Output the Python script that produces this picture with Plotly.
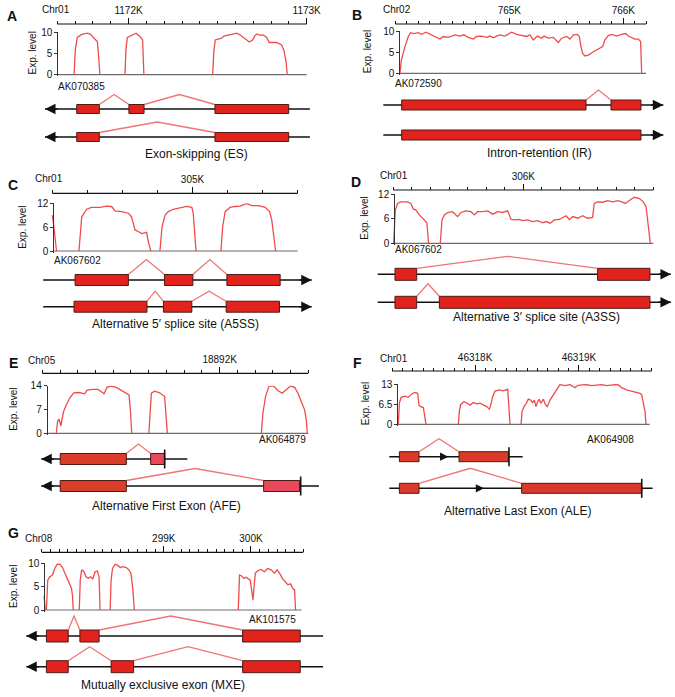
import plotly.graph_objects as go

W, H = 675, 697
FONT = "Arial, Liberation Sans, sans-serif"
COV = "#ef4b4b"
ARC = "#f07474"
EXON = "#e2231d"
EDGE = "#4d1a14"
INK = "#111111"

# ---- A: exon skipping ----
A_RULER = [1171600, 1173000]
A_MAJOR = [1172000, 1173000]
A_MAJOR_TEXT = ["1172K", "1173K"]
A_YTICKS = [0, 5, 10]
A_SPAN = [1171600, 1173000]
A_X = [1171694, 1171701, 1171712, 1171737, 1171768, 1171787, 1171806, 1171825, 1171832, 1171839, None,
       1171980, 1171985, 1171993, 1172017, 1172042, 1172064, 1172079, 1172086, None,
       1172472, 1172479, 1172487, 1172504, 1172522, 1172535, 1172560, 1172582, 1172607, 1172625,
       1172653, 1172678, 1172696, 1172711, 1172723, 1172738, 1172756, 1172775, 1172790, 1172831,
       1172859, 1172872, 1172884, 1172891]
A_Y = [0, 5.8, 8.8, 9.5, 9.8, 9.5, 8.6, 7.8, 4.3, 0, None,
       0, 5.8, 8.8, 9.2, 9.8, 9.0, 8.2, 0, None,
       0, 5.8, 8.2, 8.4, 8.6, 9.1, 9.3, 9.5, 9.8, 9.4,
       8.6, 7.7, 8.2, 9.3, 9.6, 9.3, 9.4, 8.8, 7.6, 7.6,
       7.0, 5.8, 3.1, 0]
A_ISO = [[(1171709, 1171836), (1172002, 1172087), (1172485, 1172899)],
         [(1171709, 1171836), (1172485, 1172899)]]
A_LINES = [[1171531, 1173018], [1171531, 1173018]]

# ---- B: intron retention ----
B_RULER = [764000, 766200]
B_MAJOR = [765000, 766000]
B_MAJOR_TEXT = ["765K", "766K"]
B_YTICKS = [0, 5, 10]
B_SPAN = [764035, 766200]
B_X = [764041, 764053, 764085, 764114, 764134, 764164, 764202, 764231, 764269, 764304,
       764363, 764392, 764421, 764465, 764523, 764567, 764602, 764640, 764684, 764713,
       764757, 764801, 764830, 764860, 764889, 764918, 764962, 764991, 765020, 765064,
       765108, 765152, 765181, 765211, 765246, 765284, 765304, 765342, 765386, 765430,
       765459, 765503, 765532, 765561, 765596, 765614, 765626, 765643, 765664, 765693,
       765737, 765781, 765819, 765839, 765868, 765898, 765942, 765985, 766023, 766044,
       766073, 766102, 766132, 766152, 766161]
B_Y = [0, 3.1, 6.3, 8.7, 9.6, 9.4, 9.6, 9.2, 9.7, 9.2,
       8.5, 8.1, 8.7, 8.5, 9.1, 8.8, 9.1, 8.5, 8.1, 8.7,
       8.8, 8.5, 8.8, 8.4, 8.8, 9.1, 8.8, 9.3, 9.7, 9.2,
       9.0, 8.7, 9.1, 7.9, 8.8, 8.3, 8.8, 8.3, 8.5, 7.3,
       8.3, 8.7, 8.1, 9.1, 9.2, 8.7, 6.7, 4.7, 4.1, 4.3,
       5.1, 5.7, 6.3, 7.9, 8.9, 9.2, 8.8, 9.2, 9.4, 8.8,
       8.4, 8.1, 8.1, 7.5, 0]
B_ISO = [[(764056, 765673), (765892, 766155)],
         [(764056, 766155)]]
B_LINES = [[763895, 766351], [763895, 766351]]

# ---- C: alternative 5' splice site ----
C_RULER = [304600, 305300]
C_MAJOR = [305000]
C_MAJOR_TEXT = ["305K"]
C_YTICKS = [0, 6, 12]
C_SPAN = [304603, 305300]
C_X = [304600, 304604, 304612, None,
       304676, 304684, 304698, 304712, 304736, 304755, 304769, 304779, 304798, 304817,
       304826, 304831, 304836, 304845, 304855, 304869, 304874, 304881, None,
       304907, 304913, 304922, 304931, 304945, 304964, 304983, 304998, 305002, 305007, 305010, None,
       305081, 305086, 305093, 305107, 305121, 305136, 305153, 305159, 305169, 305188,
       305207, 305220, 305226, 305233, 305237]
C_Y = [9.0, 6.5, 0, None,
       0, 8.6, 10.5, 11.0, 11.0, 11.3, 11.2, 10.1, 9.9, 9.5,
       8.6, 6.5, 5.3, 4.9, 4.4, 4.7, 2.3, 0, None,
       0, 6.1, 9.1, 9.9, 10.5, 10.9, 11.2, 11.0, 9.5, 3.6, 0, None,
       0, 6.1, 9.9, 11.0, 11.2, 11.3, 11.9, 11.8, 11.4, 11.4,
       11.0, 9.9, 7.8, 3.6, 0]
C_ISO = [[(304665, 304817), (304920, 305001), (305098, 305250)],
         [(304662, 304870), (304917, 304998), (305096, 305248)]]
C_LINES = [[304574, 305340], [304574, 305340]]

# ---- D: alternative 3' splice site ----
D_RULER = [305300, 306700]
D_MAJOR = [306000]
D_MAJOR_TEXT = ["306K"]
D_YTICKS = [0, 6, 12]
D_SPAN = [305305, 306700]
D_X = [305302, 305311, 305323, 305341, 305377, 305395, 305408, 305422, 305440, 305458,
       305472, 305481, 305487, 305490, None,
       305553, 305562, 305575, 305593, 305619, 305646, 305664, 305691, 305718, 305736,
       305754, 305781, 305808, 305835, 305862, 305889, 305916, 305925, 305934, 305952,
       305978, 305996, 306023, 306050, 306077, 306104, 306122, 306145, 306167, 306194,
       306215, 306230, 306248, 306266, 306293, 306320, 306346, 306373, 306382, 306400,
       306427, 306454, 306481, 306508, 306531, 306549, 306571, 306598, 306625, 306646,
       306661, 306670, 306679, 306684]
D_Y = [0, 8.1, 9.7, 10.1, 10.1, 9.7, 8.3, 8.1, 6.9, 6.1,
       5.3, 5.0, 1.6, 0, None,
       0, 5.7, 6.9, 7.5, 7.7, 6.5, 7.5, 7.9, 7.7, 6.9,
       7.7, 7.7, 7.9, 7.1, 7.7, 7.5, 7.9, 6.9, 5.8, 5.7,
       5.8, 5.5, 5.7, 5.3, 5.5, 5.0, 5.3, 4.9, 5.7, 5.8,
       6.3, 6.7, 5.8, 6.5, 6.1, 6.7, 6.1, 6.3, 9.7, 10.1,
       10.0, 10.4, 10.1, 10.4, 10.1, 9.7, 10.4, 11.2, 10.9, 10.1,
       8.9, 5.7, 1.6, 0]
D_ISO = [[(305309, 305426), (306400, 306682)],
         [(305309, 305426), (305548, 306682)]]
D_LINES = [[305216, 306795], [305216, 306795]]

# ---- E: alternative first exon ----
E_RULER = [18891000, 18892500]
E_MAJOR = [18892000]
E_MAJOR_TEXT = ["18892K"]
E_YTICKS = [0, 7, 14]
E_SPAN = [18891025, 18892500]
E_X = [18891079, 18891086, 18891094, 18891099, 18891105, 18891111, 18891120, 18891135, 18891154, 18891177,
       18891207, 18891239, 18891252, 18891286, 18891314, 18891333, 18891348, 18891365, 18891389, 18891417,
       18891445, 18891474, 18891489, 18891498, 18891504, None,
       18891601, 18891607, 18891615, 18891633, 18891662, 18891690, 18891699, 18891705, None,
       18892235, 18892244, 18892259, 18892278, 18892305, 18892329, 18892353, 18892376, 18892399, 18892423,
       18892442, 18892457, 18892470, 18892479, 18892489, 18892494]
E_Y = [0, 3.4, 4.2, 3.2, 2.2, 4.1, 6.4, 8.3, 10.3, 11.9,
       12.0, 11.6, 12.7, 12.9, 12.9, 12.2, 11.6, 13.5, 13.9, 13.5,
       12.7, 11.9, 11.3, 5.9, 0, None,
       0, 6.9, 11.8, 12.4, 11.9, 10.8, 4.9, 0, None,
       0, 5.9, 10.8, 13.9, 13.9, 12.5, 11.8, 12.9, 13.9, 13.5,
       11.8, 9.8, 8.3, 6.9, 3.9, 0]
E_ISO = [[(18891101, 18891474), (18891611, 18891690)],
         [(18891101, 18891474), (18892248, 18892451)]]
E_LINES = [[18890994, 18891818], [18890994, 18892560]]
E_BARS = [18891690, 18892457]

# ---- F: alternative last exon ----
F_RULER = [46317200, 46319700]
F_MAJOR = [46318000, 46319000]
F_MAJOR_TEXT = ["46318K", "46319K"]
F_YTICKS = [0, 6.5, 13]
F_SPAN = [46317251, 46319680]
F_X = [46317261, 46317271, 46317287, 46317325, 46317357, 46317389, 46317421, 46317447, 46317460, 46317476,
       46317502, 46317518, 46317527, None,
       46317839, 46317848, 46317861, 46317893, 46317925, 46317951, 46317983, 46318015, 46318047, 46318079,
       46318111, 46318137, 46318150, 46318169, 46318192, 46318233, 46318272, 46318314, 46318323, 46318336, None,
       46318442, 46318452, 46318471, 46318490, 46318512, 46318535, 46318554, 46318570, 46318586, 46318602,
       46318618, 46318634, 46318657, 46318676, 46318695, 46318721, 46318753, 46318785, 46318817, 46318865,
       46318914, 46318962, 46318984, 46319026, 46319074, 46319122, 46319170, 46319218, 46319267, 46319315,
       46319347, 46319379, 46319411, 46319459, 46319507, 46319555, 46319587, 46319604, 46319620, 46319636,
       46319645]
F_Y = [0, 6.8, 8.7, 9.1, 8.7, 9.8, 10.3, 10.0, 6.2, 5.7,
       5.4, 2.5, 0, None,
       0, 4.1, 6.4, 7.3, 6.8, 6.2, 7.0, 6.6, 6.8, 6.2,
       5.7, 4.9, 6.2, 8.9, 10.7, 11.1, 10.8, 11.3, 5.7, 0, None,
       0, 4.1, 5.7, 6.6, 8.1, 7.8, 7.0, 7.8, 5.7, 7.3,
       8.1, 6.8, 8.1, 6.4, 5.7, 7.8, 9.5, 11.3, 12.8, 12.5,
       12.8, 11.8, 12.5, 12.7, 12.8, 12.5, 12.7, 12.8, 12.5, 12.8,
       12.8, 12.7, 11.8, 11.1, 10.7, 10.3, 10.0, 9.5, 7.3, 4.1,
       0]
F_ISO = [[(46317271, 46317460), (46317845, 46318320)],
         [(46317271, 46317460), (46318448, 46319604)]]
F_LINES = [[46317174, 46318458], [46317174, 46319709]]
F_BARS = [46318326, 46319604]
F_MID = [46317742, 46318086]

# ---- G: mutually exclusive exons ----
G_RULER = [297600, 300600]
G_MAJOR = [298000, 299000, 300000]
G_MAJOR_TEXT = ["", "299K", "300K"]
G_YTICKS = [0, 5, 10]
G_SPAN = [297630, 300580]
G_X = [297627, 297642, None,
       297654, 297669, 297692, 297723, 297750, 297777, 297808, 297839, 297865, 297885,
       297912, 297931, 297942, 297954, 297962, None,
       298031, 298042, 298058, 298085, 298108, 298135, 298162, 298185, 298212, 298238,
       298258, 298269, None,
       298385, 298396, 298412, 298442, 298469, 298500, 298531, 298569, 298596, 298623,
       298646, 298662, None,
       299854, 299869, 299892, 299915, 299942, 299969, 299992, 300012, 300023, 300035,
       300050, 300077, 300115, 300154, 300192, 300231, 300269, 300300, 300327, 300365,
       300392, 300423, 300454, 300481, 300500, 300511]
G_Y = [3.0, 0, None,
       0, 6.4, 7.1, 7.5, 8.9, 9.8, 9.8, 9.1, 7.9, 7.1,
       6.1, 5.4, 4.6, 2.9, 0, None,
       0, 6.4, 8.6, 8.2, 7.1, 6.8, 7.1, 6.6, 8.2, 8.4,
       7.1, 0, None,
       0, 6.4, 8.9, 9.8, 9.6, 9.1, 9.3, 9.1, 8.7, 7.9,
       4.3, 0, None,
       0, 7.5, 7.3, 6.8, 7.0, 6.6, 6.4, 3.6, 2.1, 5.0,
       7.9, 8.4, 8.7, 8.2, 8.9, 8.6, 7.9, 8.6, 7.9, 6.6,
       6.1, 5.4, 5.6, 4.6, 4.3, 0]
G_ISO = [[(297654, 297904), (298038, 298258), (299904, 300565)],
         [(297654, 297904), (298396, 298654), (299904, 300565)]]
G_LINES = [[297423, 300827], [297423, 300827]]

# layout of each panel, in pixels of the 675x697 page
PANELS = [
    dict(letter="A", chr="Chr01", gene="AK070385", title="Exon-skipping (ES)",
         ruler=A_RULER, major=A_MAJOR, major_text=A_MAJOR_TEXT, yticks=A_YTICKS, span=A_SPAN,
         x=A_X, y=A_Y, iso=A_ISO, lines=A_LINES, strand="-",
         letter_px=(12, 16), chr_px=(56, 9), ruler_y=24, ruler_px=(57.3, 306.7), dom_px=(18, 335),
         cov_px=(32.3, 74.7), ytitle_x=32, gene_px=(56, 86, "left"), rows=[109, 137], exon_h=9,
         arc_h=[10, 10.5], title_px=(196, 154)),
    dict(letter="B", chr="Chr02", gene="AK072590", title="Intron-retention (IR)",
         ruler=B_RULER, major=B_MAJOR, major_text=B_MAJOR_TEXT, yticks=B_YTICKS, span=B_SPAN,
         x=B_X, y=B_Y, iso=B_ISO, lines=B_LINES, strand="+",
         letter_px=(357, 15), chr_px=(397, 9), ruler_y=24, ruler_px=(395.3, 646.1), dom_px=(370, 672),
         cov_px=(31, 73.3), ytitle_x=367, gene_px=(393, 83, "left"), rows=[105, 135], exon_h=10,
         arc_h=[10, 10], title_px=(539, 153)),
    dict(letter="C", chr="Chr01", gene="AK067602", title="Alternative 5\u2032 splice site (A5SS)",
         ruler=C_RULER, major=C_MAJOR, major_text=C_MAJOR_TEXT, yticks=C_YTICKS, span=C_SPAN,
         x=C_X, y=C_Y, iso=C_ISO, lines=C_LINES, strand="+",
         letter_px=(13, 185), chr_px=(49, 178), ruler_y=193.3, ruler_px=(52.3, 297.7), dom_px=(20, 335),
         cov_px=(203.3, 251), ytitle_x=21.7, gene_px=(52, 260, "left"), rows=[280, 306.7], exon_h=11,
         arc_h=[15, 10], title_px=(175, 324)),
    dict(letter="D", chr="Chr01", gene="AK067602", title="Alternative 3\u2032 splice site (A3SS)",
         ruler=D_RULER, major=D_MAJOR, major_text=D_MAJOR_TEXT, yticks=D_YTICKS, span=D_SPAN,
         x=D_X, y=D_Y, iso=D_ISO, lines=D_LINES, strand="+",
         letter_px=(356, 182), chr_px=(394, 176), ruler_y=190, ruler_px=(393.3, 653.3), dom_px=(370, 675),
         cov_px=(194, 243.3), ytitle_x=365, gene_px=(392.7, 250, "left"), rows=[274.3, 302.3], exon_h=12,
         arc_h=[12, 12.5], title_px=(536.7, 316.7)),
    dict(letter="E", chr="Chr05", gene="AK064879", title="Alternative First Exon (AFE)",
         ruler=E_RULER, major=E_MAJOR, major_text=E_MAJOR_TEXT, yticks=E_YTICKS, span=E_SPAN,
         x=E_X, y=E_Y, iso=E_ISO, lines=E_LINES, strand="-", bars=E_BARS,
         fills=["#da3d2a", "#e8485c"],
         letter_px=(13, 363), chr_px=(41.5, 360), ruler_y=373.3, ruler_px=(42.3, 308.3), dom_px=(20, 335),
         cov_px=(385.7, 433.3), ytitle_x=13.3, gene_px=(308, 440, "right"), rows=[459, 486], exon_h=11,
         arc_h=[9.5, 12], title_px=(166, 505.7)),
    dict(letter="F", chr="Chr01", gene="AK064908", title="Alternative Last Exon (ALE)",
         ruler=F_RULER, major=F_MAJOR, major_text=F_MAJOR_TEXT, yticks=F_YTICKS, span=F_SPAN,
         x=F_X, y=F_Y, iso=F_ISO, lines=F_LINES, strand="mid", bars=F_BARS, mid=F_MID,
         fills=["#da3a2a", "#da3a2a"],
         letter_px=(357, 363), chr_px=(394, 359), ruler_y=371, ruler_px=(392, 651.7), dom_px=(370, 675),
         cov_px=(384, 424.3), ytitle_x=365, gene_px=(585, 439.3, "left"), rows=[456.7, 488.3], exon_h=10,
         arc_h=[13, 15], title_px=(517, 510.7)),
    dict(letter="G", chr="Chr08", gene="AK101575", title="Mutually exclusive exon (MXE)",
         ruler=G_RULER, major=G_MAJOR, major_text=G_MAJOR_TEXT, yticks=G_YTICKS, span=G_SPAN,
         x=G_X, y=G_Y, iso=G_ISO, lines=G_LINES, strand="-",
         letter_px=(13, 533), chr_px=(39, 538.3), ruler_y=552.3, ruler_px=(41.7, 303.3), dom_px=(15, 335),
         cov_px=(563.3, 610), ytitle_x=13.3, gene_px=(298.3, 619.3, "right"), rows=[636, 666.7], exon_h=12,
         arc_h=[14, 14], title_px=(163.3, 685)),
]


def px(x):
    return x / W


def py(y):
    return 1 - y / H


def text(x, y, s, size=10, xanchor="center", **kw):
    return dict(x=px(x), y=py(y), xref="paper", yref="paper", text=s, showarrow=False,
                xanchor=xanchor, yanchor="middle",
                font=dict(family=FONT, size=size, color=INK), **kw)


fig = go.Figure()
axes, shapes, annos = {}, [], []

for i, p in enumerate(PANELS, 1):
    xa, ya = ("x", "y") if i == 1 else (f"x{i}", f"y{i}")
    xname, yname = ("xaxis", "yaxis") if i == 1 else (f"xaxis{i}", f"yaxis{i}")
    g0, g1 = p["ruler"]
    r0, r1 = p["ruler_px"]
    d0, d1 = p["dom_px"]
    s = (g1 - g0) / (r1 - r0)
    top, bot = p["cov_px"]
    ymax = p["yticks"][-1]
    pad = 0.04

    axes[xname] = dict(
        domain=[px(d0), px(d1)], range=[g0 - (r0 - d0) * s, g1 + (d1 - r1) * s],
        anchor="free", position=py(p["ruler_y"]), side="top", automargin=False,
        showline=False, showgrid=False, zeroline=False,
        ticks="outside", ticklen=6, tickwidth=1, tickcolor=INK,
        tickvals=p["major"], ticktext=p["major_text"],
        tickfont=dict(family=FONT, size=10, color=INK),
        minor=dict(tickvals=list(range(g0, g1 + 1, 100)), ticks="outside", ticklen=3.5,
                   tickwidth=1, tickcolor=INK, showgrid=False),
    )
    axes[yname] = dict(
        domain=[py(bot + (bot - top) * pad), py(top)], range=[-ymax * pad, ymax],
        anchor="free", position=px(r0 + (p["span"][0] - g0) / s), automargin=False,
        showline=True, linecolor="#333", linewidth=1, showgrid=False, zeroline=False,
        ticks="outside", ticklen=3, tickcolor="#333", tickvals=p["yticks"],
        tickfont=dict(family=FONT, size=10, color=INK),
    )

    fig.add_trace(go.Scatter(x=p["span"], y=[0, 0], mode="lines", xaxis=xa, yaxis=ya,
                             line=dict(color="#6b6b6b", width=1.2), hoverinfo="skip"))
    fig.add_trace(go.Scatter(x=p["x"], y=p["y"], mode="lines", xaxis=xa, yaxis=ya,
                             line=dict(color=COV, width=1.3), connectgaps=False, hoverinfo="skip"))

    # ruler line
    shapes.append(dict(type="line", xref=xa, yref="paper", x0=g0, x1=g1,
                       y0=py(p["ruler_y"]), y1=py(p["ruler_y"]), line=dict(color=INK, width=1.2)))

    # gene models
    h = p["exon_h"]
    for j, (exons, (ls, le)) in enumerate(zip(p["iso"], p["lines"])):
        row = p["rows"][j]
        shapes.append(dict(type="line", xref=xa, yref="paper", x0=ls, x1=le,
                           y0=py(row), y1=py(row), line=dict(color=INK, width=1.5)))
        ytop = row - h / 2
        for (_, a), (b, _) in zip(exons[:-1], exons[1:]):
            path = (f"M{a},{py(ytop)} L{(a + b) / 2},{py(ytop - p['arc_h'][j])} "
                    f"L{b},{py(ytop)}")
            shapes.append(dict(type="path", xref=xa, yref="paper", path=path,
                               line=dict(color=ARC, width=1.3)))
        fills = p.get("fills", [EXON] * len(exons))
        for k, (a, b) in enumerate(exons):
            fill = fills[0] if k == 0 else fills[-1]
            shapes.append(dict(type="rect", xref=xa, yref="paper", x0=a, x1=b,
                               y0=py(row + h / 2), y1=py(row - h / 2),
                               fillcolor=fill, line=dict(color=EDGE, width=1)))
        if "bars" in p:
            bx = p["bars"][j]
            shapes.append(dict(type="line", xref=xa, yref="paper", x0=bx, x1=bx,
                               y0=py(row - 9.5), y1=py(row + 9.5), line=dict(color=INK, width=1.6)))
        if p["strand"] == "mid":
            annos.append(dict(x=p["mid"][j], y=py(row), xref=xa, yref="paper", ax=-10, ay=0,
                              text="", showarrow=True, arrowhead=2, arrowsize=1.1,
                              arrowwidth=1.5, arrowcolor=INK))
        else:
            tip = ls if p["strand"] == "-" else le
            annos.append(dict(x=tip, y=py(row), xref=xa, yref="paper",
                              ax=14 if p["strand"] == "-" else -14, ay=0,
                              text="", showarrow=True, arrowhead=2, arrowsize=1.4,
                              arrowwidth=1.5, arrowcolor=INK))

    # text
    lx, ly = p["letter_px"]
    annos.append(text(lx, ly, f"<b>{p['letter']}</b>", size=14))
    cx, cy = p["chr_px"]
    annos.append(text(cx, cy, p["chr"], size=10))
    annos.append(text(p["ytitle_x"], (top + bot) / 2, "Exp. level", size=10, textangle=-90))
    gx, gy, anchor = p["gene_px"]
    annos.append(text(gx, gy, p["gene"], size=10, xanchor=anchor))
    tx, tyy = p["title_px"]
    annos.append(text(tx, tyy, p["title"], size=12))

fig.update_layout(
    template="none",
    width=W, height=H, margin=dict(l=0, r=0, t=0, b=0, autoexpand=False),
    paper_bgcolor="white", plot_bgcolor="white", showlegend=False,
    shapes=shapes, annotations=annos, **axes,
)

fig.write_html("out.html", config={"displayModeBar": False},
               post_script="document.body.style.margin = '0';")
